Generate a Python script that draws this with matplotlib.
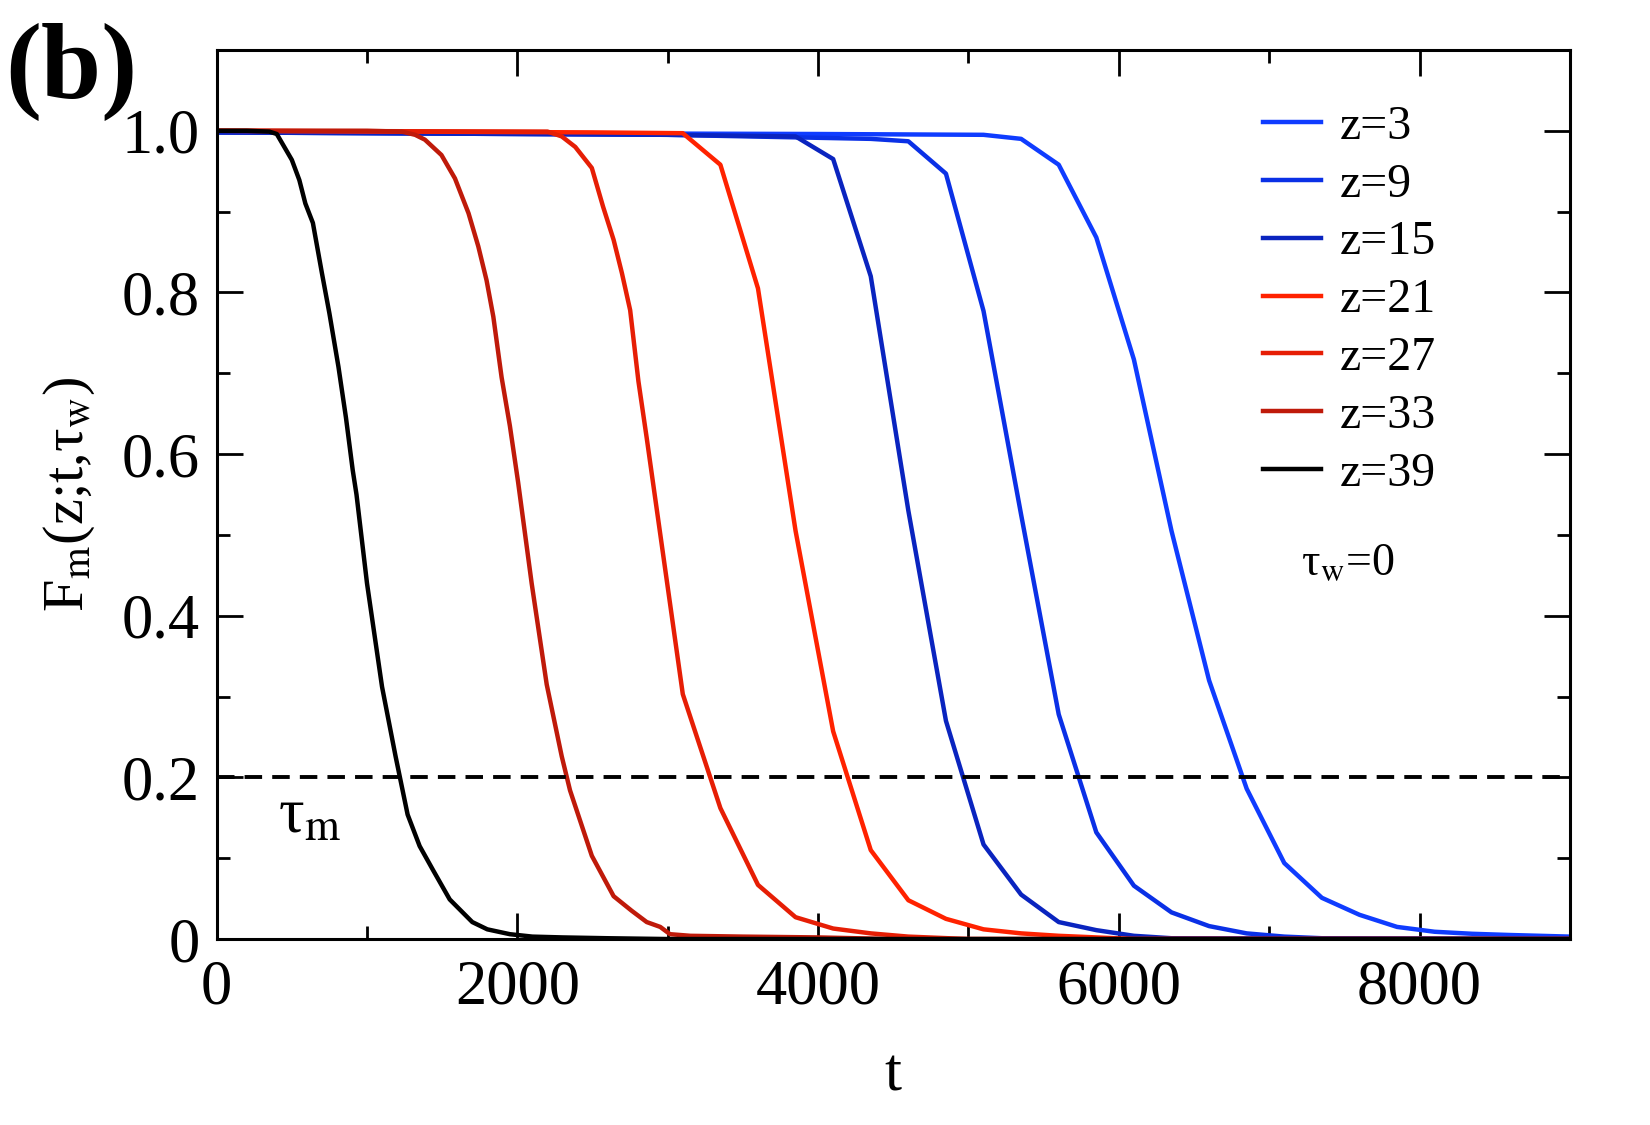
import matplotlib
matplotlib.use('Agg')
import matplotlib.pyplot as plt
from matplotlib.ticker import MultipleLocator

plt.rcParams['font.family'] = ['Liberation Serif', 'DejaVu Serif']
plt.rcParams['mathtext.fontset'] = 'stix'

# curve data
labels = ['z=3', 'z=9', 'z=15', 'z=21', 'z=27', 'z=33', 'z=39']
colors = ['#0f3cff', '#0a30e6', '#0a24bf', '#ff2200', '#e61e05', '#bf1a0a', 'black']

t_z3 = [0, 4000, 5100, 5350, 5600, 5850, 6100, 6350, 6600, 6850, 7100, 7350, 7600, 7850, 8100, 8350, 8600, 9000]
f_z3 = [0.998, 0.996, 0.995, 0.99, 0.958, 0.868, 0.717, 0.505, 0.32, 0.186, 0.094, 0.051, 0.03, 0.015, 0.009, 0.0065, 0.005, 0.003]

t_z9 = [0, 3000, 4350, 4600, 4850, 5100, 5350, 5600, 5850, 6100, 6350, 6600, 6850, 7100, 7350, 9000]
f_z9 = [0.998, 0.995, 0.99, 0.987, 0.947, 0.777, 0.525, 0.278, 0.132, 0.066, 0.033, 0.016, 0.007, 0.003, 0.001, 0.0]

t_z15 = [0, 3000, 3850, 4100, 4350, 4600, 4850, 5100, 5350, 5600, 5850, 6100, 6350, 9000]
f_z15 = [0.998, 0.995, 0.993, 0.965, 0.82, 0.53, 0.27, 0.117, 0.055, 0.021, 0.011, 0.004, 0.001, 0.0]

t_z21 = [0, 2500, 3100, 3350, 3600, 3850, 4100, 4350, 4600, 4850, 5100, 5350, 5600, 5850, 6100, 9000]
f_z21 = [1.0, 0.998, 0.997, 0.958, 0.805, 0.505, 0.257, 0.11, 0.048, 0.025, 0.012, 0.007, 0.004, 0.002, 0.0, 0.0]

t_z27 = [0, 2200, 2295, 2385, 2495, 2570, 2640, 2695, 2750, 2805, 2860, 3100, 3350, 3600, 3850, 4100, 4350, 4600, 5000, 9000]
f_z27 = [1.0, 0.999, 0.993, 0.98, 0.954, 0.906, 0.865, 0.824, 0.778, 0.69, 0.62, 0.303, 0.162, 0.067, 0.027, 0.013, 0.007, 0.003, 0.0, 0.0]

t_z33 = [0, 1000, 1230, 1320, 1385, 1495, 1585, 1675, 1740, 1795, 1840, 1895, 1950, 2005, 2095, 2195, 2295, 2350, 2495, 2640, 2760, 2860, 2950, 3015, 3150, 3500, 4000, 4500, 9000]
f_z33 = [1.0, 1.0, 0.999, 0.995, 0.989, 0.97, 0.941, 0.898, 0.857, 0.815, 0.77, 0.695, 0.635, 0.565, 0.44, 0.315, 0.226, 0.184, 0.103, 0.053, 0.035, 0.021, 0.015, 0.006, 0.004, 0.003, 0.002, 0.0, 0.0]

t_z39 = [0, 200, 350, 400, 450, 500, 550, 590, 640, 700, 750, 810, 860, 905, 930, 1000, 1100, 1190, 1270, 1350, 1440, 1550, 1700, 1800, 1950, 2100, 2300, 2600, 3000, 9000]
f_z39 = [1.0, 1.0, 0.999, 0.996, 0.98, 0.964, 0.939, 0.91, 0.886, 0.824, 0.774, 0.708, 0.645, 0.58, 0.55, 0.44, 0.312, 0.226, 0.154, 0.115, 0.085, 0.049, 0.021, 0.012, 0.006, 0.003, 0.002, 0.001, 0.0, 0.0]

t_all = [t_z3, t_z9, t_z15, t_z21, t_z27, t_z33, t_z39]
f_all = [f_z3, f_z9, f_z15, f_z21, f_z27, f_z33, f_z39]

xticks = [0, 2000, 4000, 6000, 8000]
yticks = [0, 0.2, 0.4, 0.6, 0.8, 1.0]
ytick_labels = ['0', '0.2', '0.4', '0.6', '0.8', '1.0']

fig = plt.figure(figsize=(16.5, 11.25), dpi=100)
ax = fig.add_axes([0.1313, 0.1653, 0.8202, 0.7903])

for t, f, c, lab in zip(t_all, f_all, colors, labels):
    ax.plot(t, f, color=c, lw=3.2, label=lab)

# threshold line defining tau_m
ax.axhline(0.2, color='black', lw=2.8, dashes=(4.5, 2.6))

ax.set_xlim(0, 9000)
ax.set_ylim(0, 1.1)
ax.set_xticks(xticks)
ax.set_xticklabels([str(v) for v in xticks])
ax.xaxis.set_minor_locator(MultipleLocator(1000))
ax.set_yticks(yticks)
ax.set_yticklabels(ytick_labels)
ax.yaxis.set_minor_locator(MultipleLocator(0.1))

ax.tick_params(which='both', direction='in', top=True, right=True, width=2, labelsize=45)
ax.tick_params(which='major', length=19)
ax.tick_params(which='minor', length=9.5)
ax.tick_params(axis='x', pad=15)
ax.tick_params(axis='y', pad=12)
for s in ax.spines.values():
    s.set_linewidth(2.2)

ax.set_xlabel('t', fontsize=44, labelpad=22)
ax.set_ylabel(r'F$_{\rm m}$(z;t,τ$_{\rm w}$)', fontsize=42, labelpad=18)

ax.legend(loc='upper left', bbox_to_anchor=(0.7655, 0.907), bbox_transform=fig.transFigure,
          frameon=False, fontsize=34.5, borderpad=0, borderaxespad=0,
          handlelength=1.2, handletextpad=0.4, labelspacing=0.29)

ax.text(7212, 0.464, r'τ$_{\rm w}$=0', fontsize=33, ha='left', va='center')
ax.text(410, 0.15, r'τ$_{\rm m}$', fontsize=46, ha='left', va='center')

fig.text(0.003, 0.98, '(b)', fontsize=78, fontweight='bold', ha='left', va='top')

fig.savefig('out.png', dpi=100)
